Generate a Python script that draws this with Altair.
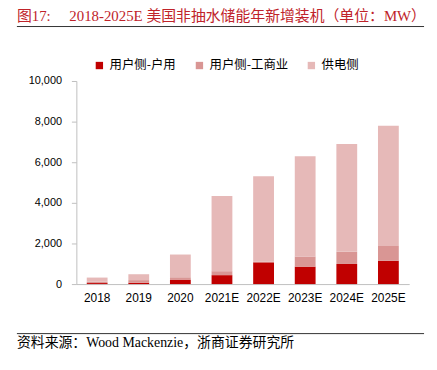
import altair as alt
import pandas as pd

years = ["2018", "2019", "2020", "2021E", "2022E", "2023E", "2024E", "2025E"]
series = ["用户侧-户用", "用户侧-工商业", "供电侧"]
household = [50, 65, 220, 440, 1070, 860, 990, 1150]
commercial = [65, 130, 115, 195, 40, 490, 600, 730]
utility = [205, 290, 1120, 3700, 4200, 4950, 5310, 5920]
colors = ["#C00000", "#D99694", "#E6B9B8"]

NB = "\u00a0"
title_text = "图17:" + NB * 5 + "2018-2025E 美国非抽水储能年新增装机（单位：MW）"
source_text = "资料来源：Wood Mackenzie，浙商证券研究所"

rows = []
for i, y in enumerate(years):
    for k, (name, vals) in enumerate(zip(series, [household, commercial, utility])):
        rows.append({"year": y, "series": name, "value": vals[i], "ord": k})
df = pd.DataFrame(rows)

CJK = "'Noto Sans CJK SC'"
SANS = "'Liberation Sans', Arial, " + CJK
SERIF = "'Liberation Serif', 'Times New Roman', " + CJK

bars = alt.Chart(df).mark_bar().encode(
    x=alt.X("year:N", sort=years,
            scale=alt.Scale(paddingInner=0.5, paddingOuter=0.25),
            axis=alt.Axis(title=None, labelAngle=0, ticks=False, domainColor="#BFBFBF",
                          labelFont=SANS, labelFontSize=12, labelColor="#000000",
                          labelPadding=9)),
    y=alt.Y("value:Q", stack="zero",
            scale=alt.Scale(domain=[0, 10000]),
            axis=alt.Axis(title=None, values=[0, 2000, 4000, 6000, 8000, 10000], format=",.0f",
                          grid=False, domainColor="#BFBFBF", tickColor="#BFBFBF", tickSize=5,
                          labelFont=SANS, labelFontSize=11, labelColor="#000000",
                          labelPadding=10)),
    color=alt.Color("series:N", sort=series,
                    scale=alt.Scale(domain=series, range=colors),
                    legend=alt.Legend(title=None, orient="none", direction="horizontal",
                                      legendX=17, legendY=-22, symbolType="square",
                                      symbolSize=55, symbolStrokeWidth=0,
                                      labelFont=CJK, labelFontSize=12.5, labelColor="#000000",
                                      columnPadding=17, labelOffset=4)),
    order=alt.Order("ord:Q", sort="ascending"),
)

title = alt.Chart(pd.DataFrame({"t": [title_text]})).mark_text(
    align="left", baseline="middle", font=SERIF, fontSize=15, color="#C0232A"
).encode(text="t:N", x=alt.value(-60), y=alt.value(-65.5))

source = alt.Chart(pd.DataFrame({"t": [source_text]})).mark_text(
    align="left", baseline="middle", font=SERIF, fontSize=14, color="#000000"
).encode(text="t:N", x=alt.value(-60), y=alt.value(265))

lines = alt.Chart(pd.DataFrame({"y": [-55, 255]})).mark_rule(
    color="#333333", strokeWidth=1
).encode(x=alt.value(-60), x2=alt.value(351), y=alt.Y("y:Q", scale=None))

chart = alt.layer(bars, title, source, lines).properties(
    width=336, height=205,
    autosize=alt.AutoSizeParams(type="none"),
    padding={"left": 69, "top": 72, "right": 20, "bottom": 80},
).configure_view(stroke=None)

chart.save("out.html", embed_options={"renderer": "svg", "actions": False})
